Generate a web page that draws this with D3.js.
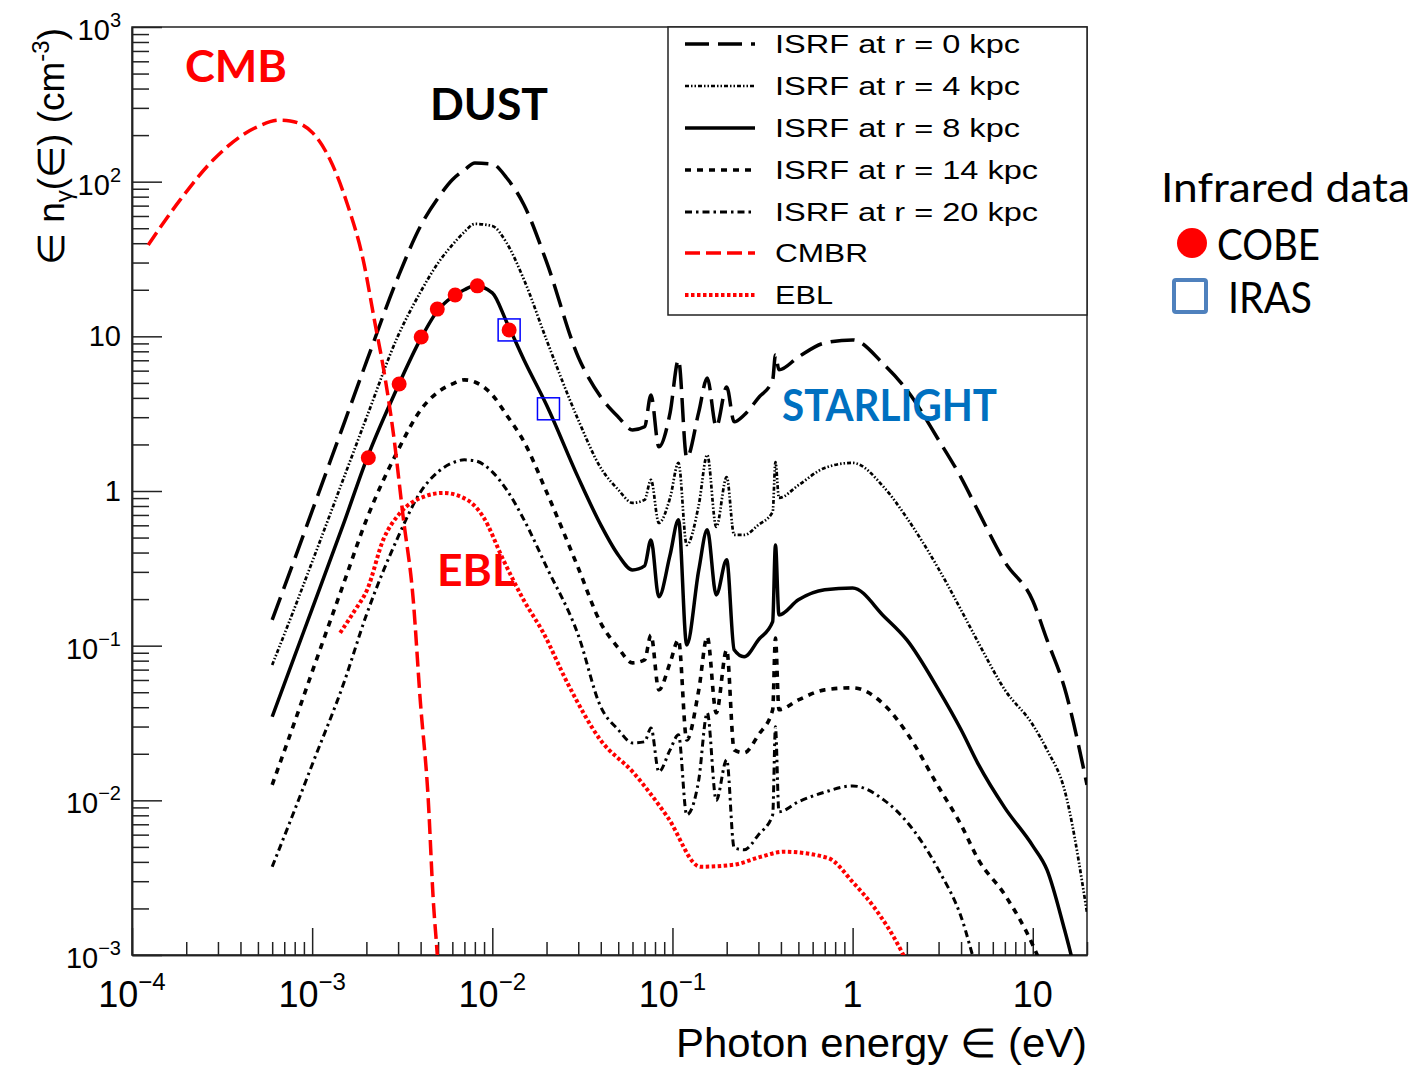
<!DOCTYPE html>
<html>
<head>
<meta charset="utf-8">
<script src="https://cdn.jsdelivr.net/npm/d3@7"></script>
<style>
body { margin: 0; background: #fff; }
svg { display: block; font-family: "Liberation Sans", Arial, sans-serif; }
</style>
</head>
<body>
<div id="container"></div>
<script>
// shared energy grid (eV) for the five ISRF curves
var energy = [6e-4, 8e-4, 1e-3, 1.5e-3, 2e-3, 3e-3, 4e-3, 5e-3, 6e-3, 7e-3, 8e-3, 1e-2, 1.2e-2, 1.5e-2, 2e-2,
	3e-2, 4e-2, 5e-2, 0.06, 0.07, 0.076, 0.084, 0.097, 0.108, 0.12, 0.14, 0.156, 0.175, 0.2, 0.22, 0.25,
	0.3, 0.36, 0.373, 0.39, 0.5, 0.7, 1, 1.5, 2, 3, 4, 5, 7, 10, 12, 15, 20];

var isrf0 = [0.147, 0.364, 0.744, 2.72, 6.83, 24.2, 51.7, 78.5, 103, 119, 132, 130, 106, 70.7, 30.3,
	7.36, 4.06, 3.01, 2.48, 2.60, 4.18, 1.93, 3.20, 7.04, 1.64, 3.25, 5.38, 2.60, 4.71, 2.80, 3.10,
	4.00, 5.23, 7.58, 6.07, 7.36, 9.06, 9.48, 6.53, 4.50, 2.14, 1.22, 0.733, 0.348, 0.195, 0.109, 0.0534, 0.0126];
var isrf4 = [0.0751, 0.176, 0.348, 1.22, 2.97, 10.1, 19.4, 29.8, 39.0, 47.3, 53.3, 51.7, 40.2, 23.2, 9.48,
	2.88, 1.41, 1.02, 0.838, 0.876, 1.18, 0.622, 0.902, 1.52, 0.448, 0.813, 1.71, 0.586, 1.23, 0.520, 0.520,
	0.604, 0.733, 1.54, 0.902, 1.09, 1.41, 1.52, 1.05, 0.670, 0.314, 0.170, 0.104, 0.0518, 0.0308, 0.0212, 0.0117, 0.00188];
var isrf8 = [0.0347, 0.0859, 0.173, 0.622, 1.59, 4.78, 9.62, 14.8, 18.0, 20.0, 21.2, 19.1, 12.4, 7.04, 3.60,
	1.22, 0.604, 0.386, 0.309, 0.328, 0.483, 0.207, 0.386, 0.651, 0.101, 0.309, 0.561, 0.213, 0.359, 0.094, 0.0847,
	0.109, 0.143, 0.448, 0.158, 0.198, 0.230, 0.236, 0.154, 0.109, 0.0518, 0.0286, 0.0170, 0.00894, 0.00508, 0.00355, 0.00146, 0.00038];
var isrf14 = [0.0126, 0.0322, 0.0677, 0.255, 0.651, 1.84, 3.34, 4.37, 4.92, 5.23, 5.07, 4.18, 3.10, 2.08, 0.987,
	0.318, 0.140, 0.0968, 0.0774, 0.0809, 0.117, 0.0518, 0.0774, 0.109, 0.0246, 0.0518, 0.114, 0.0368, 0.094, 0.0212, 0.0203,
	0.0265, 0.0385, 0.112, 0.0385, 0.0446, 0.0518, 0.0534, 0.0414, 0.0273, 0.0122, 0.00694, 0.00412, 0.00245, 0.00116, 0.000691, 0.000283, 0.000116];
var isrf20 = [0.00372, 0.00868, 0.0170, 0.0575, 0.158, 0.505, 0.987, 1.33, 1.52, 1.59, 1.57, 1.33, 1.02, 0.651, 0.323,
	0.117, 0.0402, 0.0286, 0.0235, 0.0239, 0.0294, 0.0153, 0.0212, 0.0265, 0.00806, 0.0136, 0.0368, 0.0100, 0.0183, 0.00493, 0.00479,
	0.00598, 0.00806, 0.0299, 0.00843, 0.00978, 0.0113, 0.0124, 0.0100, 0.00726, 0.00355, 0.00177, 0.000745, 0.000329, 0.00021, 0.00016, 0.0001, 0.00006];

var cmbEnergy = [1.23e-4, 1.85e-4, 2.82e-4, 4.95e-4, 6.64e-4, 7.55e-4, 1.01e-3, 1.26e-3, 1.56e-3, 1.92e-3,
	2.24e-3, 2.48e-3, 2.82e-3, 3.20e-3, 3.64e-3, 3.98e-3, 4.41e-3, 4.70e-3, 4.95e-3, 5.2e-3];
var cmbDensity = [39.0, 76.2, 138, 226, 250, 247, 206, 138, 72.8, 31.2,
	11.9, 6.34, 2.38, 0.680, 0.198, 0.0446, 0.0101, 0.00228, 0.001, 0.0004];

var eblEnergy = [1.43e-3, 1.73e-3, 2.02e-3, 2.48e-3, 3.08e-3, 4.14e-3, 5.35e-3, 7.26e-3, 8.91e-3, 1.15e-2,
	1.49e-2, 1.92e-2, 2.61e-2, 3.98e-2, 6.07e-2, 9.38e-2, 0.143, 0.218, 0.308, 0.414, 0.726, 1.01, 1.31, 1.85, 2.0];
var eblDensity = [0.121, 0.170, 0.230, 0.483, 0.722, 0.916, 0.972, 0.876, 0.680, 0.359,
	0.198, 0.121, 0.0575, 0.0246, 0.0151, 0.00782, 0.00372, 0.00383, 0.00431, 0.00465, 0.00425, 0.00293, 0.00205, 0.00108, 0.0009];

var cobeEnergy = [2.05e-3, 3.04e-3, 4.03e-3, 4.95e-3, 6.22e-3, 8.26e-3, 1.24e-2];
var cobeDensity = [1.64, 4.92, 9.9, 15.0, 18.5, 21.2, 11.0];
var irasEnergy = [1.24e-2, 2.05e-2];
var irasDensity = [11.0, 3.4];

var xTicks = [1e-4, 1e-3, 1e-2, 1e-1, 1, 10];
var xTickLabels = [["10", "\u22124"], ["10", "\u22123"], ["10", "\u22122"], ["10", "\u22121"], ["1", ""], ["10", ""]];
var yTicks = [1e-3, 1e-2, 1e-1, 1, 10, 1e2, 1e3];
var yTickLabels = [["10", "\u22123"], ["10", "\u22122"], ["10", "\u22121"], ["1", ""], ["10", ""], ["10", "2"], ["10", "3"]];

var legendLabels = ["ISRF at r = 0 kpc", "ISRF at r = 4 kpc", "ISRF at r = 8 kpc", "ISRF at r = 14 kpc",
	"ISRF at r = 20 kpc", "CMBR", "EBL"];

var width = 1426, height = 1065;
var plotL = 132, plotR = 1087, plotT = 27, plotB = 955;

var xScale = d3.scaleLog().domain([1e-4, 20]).range([plotL, plotR]);
var yScale = d3.scaleLog().domain([1e-3, 1e3]).range([plotB, plotT]);

var series = [
	{x: energy, y: isrf0, color: "#000", w: 3.5, dash: "24,9"},
	{x: energy, y: isrf4, color: "#000", w: 2.7, dash: "4,2,1.5,2,1.5,2"},
	{x: energy, y: isrf8, color: "#000", w: 3.5, dash: null},
	{x: energy, y: isrf14, color: "#000", w: 3.6, dash: "6,6"},
	{x: energy, y: isrf20, color: "#000", w: 3, dash: "7,4,2.5,4"},
	{x: cmbEnergy, y: cmbDensity, color: "#ff0000", w: 3.5, dash: "15,6"},
	{x: eblEnergy, y: eblDensity, color: "#ff0000", w: 4, dash: "3.5,2.5"}
];

var line = d3.line()
	.x(function(d){ return xScale(d[0]); })
	.y(function(d){ return yScale(d[1]); })
	.curve(d3.curveMonotoneX);

function minorTicks(lo, hi, max) {
	var out = [];
	for (var d = lo; d <= hi * 1.0001; d *= 10) {
		for (var m = 2; m <= 9; m++) if (m * d <= max * 1.0001) out.push(m * d);
	}
	return out;
}

function tickLabel(g, x, y, base, sup, size, supSize, supDy, anchor) {
	var t = g.append('text')
		.attr('x', x).attr('y', y)
		.attr('text-anchor', anchor)
		.style('font-size', size + 'px');
	t.append('tspan').text(base);
	if (sup) t.append('tspan').attr('dy', -supDy).style('font-size', supSize + 'px').text(sup);
}

function visualize() {
	var svg = d3.select('#container').append('svg')
		.attr('width', width).attr('height', height);

	svg.append('rect').attr('width', width).attr('height', height).attr('fill', '#fff');

	svg.append('clipPath').attr('id', 'plot')
		.append('rect').attr('x', plotL).attr('y', plotT)
		.attr('width', plotR - plotL).attr('height', plotB - plotT);

	// frame
	svg.append('rect')
		.attr('x', plotL).attr('y', plotT)
		.attr('width', plotR - plotL).attr('height', plotB - plotT)
		.attr('fill', 'none').attr('stroke', '#222').attr('stroke-width', 1.5);

	// axes
	var xMajor = d3.axisBottom(xScale).tickValues(xTicks).tickSize(-27).tickSizeOuter(0).tickFormat('');
	var xMinor = d3.axisBottom(xScale).tickValues(minorTicks(1e-4, 10, 20)).tickSize(-13).tickSizeOuter(0).tickFormat('');
	var yMajor = d3.axisLeft(yScale).tickValues(yTicks).tickSize(-30).tickSizeOuter(0).tickFormat('');
	var yMinor = d3.axisLeft(yScale).tickValues(minorTicks(1e-3, 100, 1000)).tickSize(-17).tickSizeOuter(0).tickFormat('');
	[[xMajor, 'translate(0,' + plotB + ')'], [xMinor, 'translate(0,' + plotB + ')'],
	 [yMajor, 'translate(' + plotL + ',0)'], [yMinor, 'translate(' + plotL + ',0)']].forEach(function(a){
		svg.append('g').attr('transform', a[1]).call(a[0])
			.attr('color', '#222')
			.selectAll('line, path').attr('stroke-width', 1.5);
	});

	var labels = svg.append('g').attr('fill', '#000');
	xTicks.forEach(function(v, i){
		tickLabel(labels, xScale(v), 1007, xTickLabels[i][0], xTickLabels[i][1], 36, 24, 17, 'middle');
	});
	yTicks.forEach(function(v, i){
		var sup = yTickLabels[i][1];
		tickLabel(labels, 121, yScale(v) + (sup ? 13 : 10), yTickLabels[i][0], sup, 29, 20, 13, 'end');
	});

	// axis titles
	svg.append('text')
		.attr('x', plotR).attr('y', 1057)
		.attr('text-anchor', 'end')
		.attr('textLength', 411).attr('lengthAdjust', 'spacingAndGlyphs')
		.style('font-size', '40px')
		.text('Photon energy \u2208 (eV)');

	var yt = svg.append('text')
		.attr('transform', 'translate(64,28) rotate(-90)')
		.attr('text-anchor', 'end')
		.style('font-size', '37px');
	yt.append('tspan').text('\u2208 n');
	yt.append('tspan').attr('dy', 8).style('font-size', '24px').text('\u03b3');
	yt.append('tspan').attr('dy', -8).text('(\u2208) (cm');
	yt.append('tspan').attr('dy', -15).style('font-size', '24px').text('-3');
	yt.append('tspan').attr('dy', 15).text(')');

	// curves
	var curves = svg.append('g').attr('clip-path', 'url(#plot)');
	series.forEach(function(s){
		var pts = s.x.map(function(e, i){ return [e, s.y[i]]; });
		curves.append('path')
			.attr('d', line(pts))
			.attr('fill', 'none')
			.attr('stroke', s.color)
			.attr('stroke-width', s.w)
			.attr('stroke-dasharray', s.dash)
			.attr('stroke-linejoin', 'round');
	});

	// infrared data points
	curves.selectAll('circle.cobe').data(cobeEnergy).enter()
		.append('circle').attr('class', 'cobe')
		.attr('cx', function(d){ return xScale(d); })
		.attr('cy', function(d, i){ return yScale(cobeDensity[i]); })
		.attr('r', 7.5)
		.attr('fill', '#ff0000');
	curves.selectAll('rect.iras').data(irasEnergy).enter()
		.append('rect').attr('class', 'iras')
		.attr('x', function(d){ return xScale(d) - 11; })
		.attr('y', function(d, i){ return yScale(irasDensity[i]) - 11; })
		.attr('width', 22).attr('height', 22)
		.attr('fill', 'none').attr('stroke', '#0000ff').attr('stroke-width', 1.5);

	// legend
	var lg = svg.append('g');
	lg.append('rect')
		.attr('x', 668).attr('y', plotT).attr('width', plotR - 668).attr('height', 315 - plotT)
		.attr('fill', '#fff').attr('stroke', '#222').attr('stroke-width', 1.5);
	var rowY = [44, 86, 128, 170, 212, 253, 295];
	var textW = [245, 245, 245, 263, 263, 93, 58];
	legendLabels.forEach(function(name, i){
		var s = series[i];
		lg.append('line')
			.attr('x1', 685).attr('x2', 755).attr('y1', rowY[i]).attr('y2', rowY[i])
			.attr('stroke', s.color).attr('stroke-width', s.w)
			.attr('stroke-dasharray', s.dash);
		lg.append('text')
			.attr('x', 775).attr('y', rowY[i] + 9)
			.attr('textLength', textW[i]).attr('lengthAdjust', 'spacingAndGlyphs')
			.style('font-size', '26px')
			.text(name);
	});

	// annotations
	var notes = [
		{t: 'CMB', x: 185, y: 82, w: 102, c: '#ff0000'},
		{t: 'DUST', x: 430, y: 120, w: 118, c: '#000000'},
		{t: 'STARLIGHT', x: 782, y: 421, w: 215, c: '#0070c0'},
		{t: 'EBL', x: 437, y: 586, w: 78, c: '#ff0000'}
	];
	notes.forEach(function(n){
		svg.append('text')
			.attr('x', n.x).attr('y', n.y)
			.attr('textLength', n.w).attr('lengthAdjust', 'spacingAndGlyphs')
			.attr('fill', n.c)
			.style('font-family', 'Lato, "Open Sans", sans-serif')
			.style('font-weight', 'bold')
			.style('font-size', '44px')
			.text(n.t);
	});

	// infrared data key
	var key = svg.append('g').style('font-family', 'Lato, "Open Sans", sans-serif');
	key.append('text').attr('x', 1161).attr('y', 202)
		.attr('textLength', 249).attr('lengthAdjust', 'spacingAndGlyphs')
		.style('font-size', '40px').text('Infrared data');
	key.append('circle').attr('cx', 1192).attr('cy', 243).attr('r', 15).attr('fill', '#ff0000');
	key.append('text').attr('x', 1217).attr('y', 260)
		.attr('textLength', 103).attr('lengthAdjust', 'spacingAndGlyphs')
		.style('font-size', '42px').text('COBE');
	key.append('rect').attr('x', 1174).attr('y', 280).attr('width', 32).attr('height', 32).attr('rx', 2)
		.attr('fill', 'none').attr('stroke', '#4f81bd').attr('stroke-width', 4);
	key.append('text').attr('x', 1228).attr('y', 313)
		.attr('textLength', 84).attr('lengthAdjust', 'spacingAndGlyphs')
		.style('font-size', '42px').text('IRAS');
}

window.onload = visualize;
</script>
</body>
</html>
